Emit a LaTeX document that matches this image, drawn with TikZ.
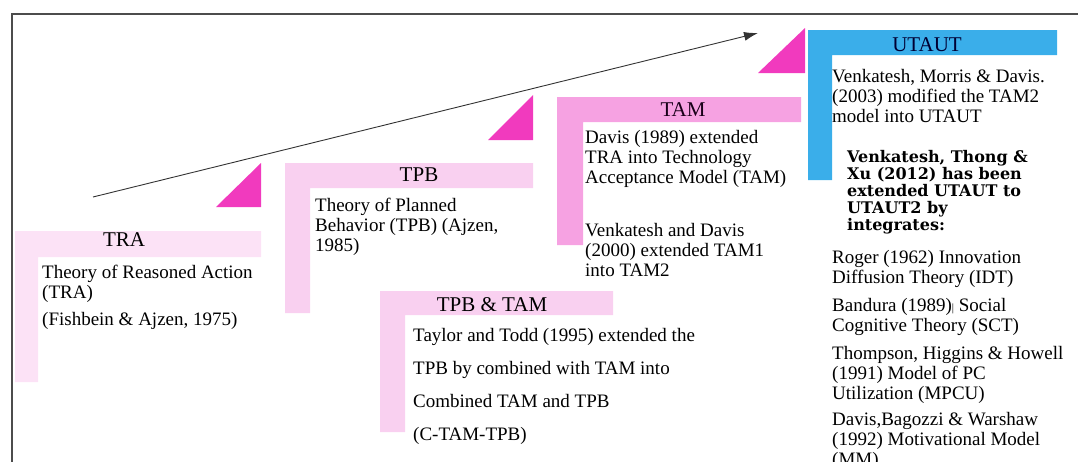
\documentclass[tikz,border=0pt]{standalone}
\usepackage{fontspec}
\setmainfont{Liberation Serif}
\newfontfamily\wideserif{DejaVu Serif}
\usetikzlibrary{arrows.meta}

\begin{document}
\begin{tikzpicture}[x=1pt,y=-1pt]
    \definecolor{palepink}{RGB}{252,226,246}
    \definecolor{midpink}{RGB}{249,208,240}
    \definecolor{tampink}{RGB}{246,162,226}
    \definecolor{wedge}{RGB}{241,58,190}
    \definecolor{utblue}{RGB}{58,174,234}
    \tikzset{
      title/.style={font=\fontsize{21}{22}\selectfont, anchor=base, inner sep=0pt},
      % multi-line text sits on the baseline of its last line
      body/.style={font=\fontsize{19}{20}\selectfont, align=left, anchor=base west, inner sep=0pt},
      loose/.style={body, font=\fontsize{19}{32.7}\selectfont},
      heavy/.style={body, font=\wideserif\bfseries\fontsize{16}{17}\selectfont}
    }
    \useasboundingbox (0,0) rectangle (1078,461);
    \clip (0,0) rectangle (1078,461);

    % frame
    \draw[line width=1.5pt, black!70] (12,480) -- (12,14) -- (1100,14);

    % L-shaped bands
    \fill[palepink] (15,231) -- (261,231) -- (261,257) -- (38,257) -- (38,382) -- (15,382) -- cycle;
    \fill[midpink] (285,163) -- (533,163) -- (533,188) -- (310,188) -- (310,313) -- (285,313) -- cycle;
    \fill[midpink] (380,291) -- (613,291) -- (613,315) -- (405,315) -- (405,432) -- (380,432) -- cycle;
    \fill[tampink] (557,97) -- (801,97) -- (801,122) -- (583,122) -- (583,245) -- (557,245) -- cycle;
    \fill[utblue] (808,30) -- (1057,30) -- (1057,55) -- (832,55) -- (832,180) -- (808,180) -- cycle;

    % step wedges
    \fill[wedge] (216,207) -- (261,163) -- (261,207) -- cycle;
    \fill[wedge] (488,140) -- (533,95) -- (533,140) -- cycle;
    \fill[wedge] (758,73) -- (805,28) -- (805,73) -- cycle;

    % timeline arrow
    \coordinate (start) at (93,197);
    \coordinate (tip) at (758,33);
    \draw[-{Latex[length=14pt,width=9pt]}, black!80, line width=0.9pt] (start) -- (tip);

    % titles
    \node[title] (tra) at (124,246) {TRA};
    \node[title] (tpb) at (419,181) {TPB};
    \node[title] (tpbtam) at (492,311) {TPB \& TAM};
    \node[title, text=black!80!violet] (tam) at (683,116) {TAM};
    \node[title, text=black!80!blue] (utaut) at (927,51) {UTAUT};

    % descriptions
    \node[body] (tradesc) at (42,325) {Theory of Reasoned Action\\(TRA)\\[7pt](Fishbein \& Ajzen, 1975)};
    \node[body] (tpbdesc) at (315,251) {Theory of Planned\\Behavior (TPB) (Ajzen,\\1985)};
    \node[loose] (tpbtamdesc) at (413,440) {Taylor and Todd (1995) extended the\\TPB by combined with TAM into\\Combined TAM and TPB\\(C-TAM-TPB)};
    \node[body] (tamdesc) at (585,183) {Davis (1989) extended\\TRA into Technology\\Acceptance Model (TAM)};
    \node[body] (tamtwo) at (585,276) {Venkatesh and Davis\\(2000) extended TAM1\\into TAM2};
    \node[body] (utautdesc) at (832,122) {Venkatesh, Morris \& Davis.\\(2003) modified the TAM2\\model into UTAUT};
    \node[heavy] (utauttwo) at (847,230) {Venkatesh, Thong \&\\Xu (2012) has been\\extended UTAUT to\\UTAUT2 by\\integrates:};
    \node[body] (sources) at (832,465) {Roger (1962) Innovation\\Diffusion Theory (IDT)\\[8pt]Bandura (1989){\fontsize{11}{11}\selectfont|} Social\\Cognitive Theory (SCT)\\[8pt]Thompson, Higgins \& Howell\\(1991) Model of PC\\Utilization (MPCU)\\[6pt]Davis,Bagozzi \& Warshaw\\(1992) Motivational Model\\(MM)};
\end{tikzpicture}
\end{document}
